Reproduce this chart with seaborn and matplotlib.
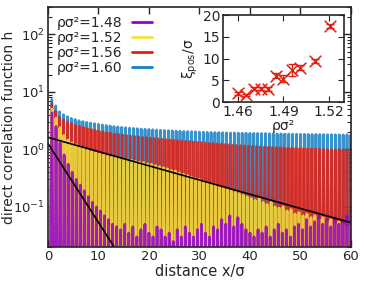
import matplotlib
matplotlib.use("Agg")
import matplotlib.pyplot as plt
import seaborn as sns
import numpy as np
import pandas as pd

sns.set_style("ticks")
plt.rcParams["font.family"] = ["DejaVu Sans"]
plt.rcParams["mathtext.fontset"] = "dejavusans"

# --- main panel: peak heights of h(x) for each density (one value per oscillation) ---
densities = ["1.48", "1.52", "1.56", "1.60"]
colors = ["#9400d3", "#f0e442", "#e51e10", "#1380c4"]
peak_spacing = [0.800, 0.789, 0.779, 0.769]   # distance between maxima (x/sigma)
trough_h = 1e-6                                 # h goes negative between peaks

peaks_148 = [4.3, 2.5, 1.3, 0.8, 0.55, 0.4, 0.3, 0.24, 0.19, 0.15,
             0.12, 0.1, 0.085, 0.07, 0.06, 0.05, 0.045, 0.04, 0.05, 0.035,
             0.045, 0.03, 0.04, 0.05, 0.035, 0.03, 0.045, 0.04, 0.03, 0.035,
             0.025, 0.04, 0.03, 0.045, 0.035, 0.03, 0.04, 0.05, 0.035, 0.03,
             0.045, 0.04, 0.06, 0.05, 0.07, 0.045, 0.065, 0.05, 0.04, 0.035,
             0.03, 0.04, 0.035, 0.045, 0.03, 0.04, 0.05, 0.035, 0.04, 0.03,
             0.045, 0.05, 0.04, 0.06, 0.045, 0.055, 0.07, 0.05, 0.06, 0.045,
             0.065, 0.05, 0.055, 0.07, 0.05]
peaks_152 = [5.0, 3.5, 2.4, 1.75, 1.45, 1.3, 1.2, 1.12, 1.05, 0.98,
             0.93, 0.88, 0.84, 0.8, 0.77, 0.74, 0.72, 0.7, 0.68, 0.66,
             0.65, 0.62, 0.6, 0.59, 0.56, 0.55, 0.52, 0.5, 0.48, 0.46,
             0.43, 0.42, 0.39, 0.37, 0.35, 0.33, 0.31, 0.3, 0.28, 0.26,
             0.25, 0.24, 0.22, 0.21, 0.2, 0.19, 0.18, 0.17, 0.16, 0.15,
             0.14, 0.13, 0.14, 0.12, 0.11, 0.12, 0.1, 0.095, 0.1, 0.085,
             0.09, 0.075, 0.08, 0.07, 0.075, 0.065, 0.07, 0.06, 0.065, 0.055,
             0.06, 0.05, 0.055, 0.05, 0.045, 0.05]
peaks_156 = [6.3, 4.6, 3.6, 3.25, 3.0, 2.8, 2.65, 2.5, 2.4, 2.3,
             2.22, 2.14, 2.07, 2.0, 1.95, 1.9, 1.86, 1.82, 1.78, 1.74,
             1.71, 1.68, 1.65, 1.62, 1.6, 1.57, 1.55, 1.52, 1.5, 1.48,
             1.46, 1.44, 1.42, 1.4, 1.38, 1.36, 1.34, 1.32, 1.31, 1.29,
             1.27, 1.26, 1.24, 1.23, 1.21, 1.2, 1.19, 1.17, 1.16, 1.15,
             1.14, 1.13, 1.12, 1.11, 1.1, 1.09, 1.08, 1.07, 1.07, 1.06,
             1.05, 1.05, 1.04, 1.03, 1.03, 1.02, 1.02, 1.01, 1.01, 1.0,
             1.0, 0.99, 0.99, 0.99, 0.98, 0.98, 0.97]
peaks_160 = [7.4, 5.7, 4.5, 4.0, 3.7, 3.45, 3.3, 3.15, 3.05, 2.95,
             2.87, 2.8, 2.73, 2.66, 2.6, 2.55, 2.5, 2.46, 2.42, 2.38,
             2.35, 2.32, 2.29, 2.26, 2.24, 2.22, 2.2, 2.17, 2.15, 2.13,
             2.12, 2.1, 2.08, 2.07, 2.05, 2.04, 2.03, 2.02, 2.0, 1.99,
             1.98, 1.97, 1.96, 1.96, 1.95, 1.94, 1.93, 1.93, 1.92, 1.91,
             1.91, 1.9, 1.9, 1.89, 1.88, 1.88, 1.87, 1.87, 1.86, 1.86,
             1.85, 1.85, 1.84, 1.84, 1.83, 1.83, 1.82, 1.82, 1.82, 1.81,
             1.81, 1.8, 1.8, 1.8, 1.79, 1.79, 1.79, 1.78]
all_peaks = [peaks_148, peaks_152, peaks_156, peaks_160]

# exponential envelope fits h ~ A exp(-x / xi)
fit_amp = [1.27, 1.62]
fit_xi = [3.16, 17.55]

# --- inset: correlation length vs density ---
rho_inset = [1.460, 1.465, 1.4705, 1.475, 1.480, 1.485, 1.490, 1.4956, 1.5007, 1.5105, 1.5206]
xi_inset = [2.0, 1.6, 3.1, 3.1, 3.0, 6.1, 5.4, 7.3, 7.9, 9.4, 17.5]
xi_err = [0.4, 0.3, 0.4, 0.4, 0.5, 0.6, 0.8, 1.4, 0.6, 0.5, 0.5]


def spike_frame(peaks, spacing, label):
    xs, hs = [0.0], [trough_h]
    for k, p in enumerate(peaks, start=1):
        xs += [k * spacing, (k + 0.5) * spacing]
        hs += [p, trough_h]
    return pd.DataFrame({"distance": xs, "h": hs, "rho": label})


fig = plt.figure(figsize=(3.66, 2.91), dpi=100)
ax = fig.add_axes([0.131, 0.151, 0.828, 0.825])

# draw highest density first so the low density curves sit on top
for i in reversed(range(4)):
    df = spike_frame(all_peaks[i], peak_spacing[i], densities[i])
    sns.lineplot(data=df, x="distance", y="h", sort=False, estimator=None,
                 color=colors[i], lw=2.0, alpha=0.85, ax=ax, label=f"ρσ²={densities[i]}")

xfit = np.linspace(0, 60, 400)
for a, xi in zip(fit_amp, fit_xi):
    ax.plot(xfit, a * np.exp(-xfit / xi), color="black", lw=1.2)

ax.set_yscale("log")
ax.set_xlim(0, 60)
ax.set_ylim(0.02, 300)
ax.set_xticks([0, 10, 20, 30, 40, 50, 60])
ax.set_xlabel("distance x/σ", fontsize=10.5, labelpad=1)
ax.set_ylabel("direct correlation function h", fontsize=10)
ax.yaxis.set_label_coords(-0.104, 0.5)
ax.tick_params(which="both", direction="in", top=True, right=True, labelsize=9.5, pad=2)
ax.tick_params(which="major", length=5, width=1)
ax.tick_params(which="minor", length=3, width=0.8)
for s in ax.spines.values():
    s.set_linewidth(1.2)

h_, l_ = ax.get_legend_handles_labels()
leg = ax.legend(h_[::-1], l_[::-1], loc="upper left", frameon=False, markerfirst=False,
                fontsize=10, handlelength=1.4, labelspacing=0.06, borderaxespad=0.1,
                borderpad=0.55, handletextpad=0.7)
for line in leg.get_lines():
    line.set_linewidth(2)
    line.set_alpha(1)

# inset
axi = fig.add_axes([0.609, 0.649, 0.331, 0.299])
axi.set_facecolor("white")
axi.errorbar(rho_inset, xi_inset, yerr=xi_err, fmt="none", ecolor="#e51e10",
             elinewidth=1, capsize=3)
sns.scatterplot(x=rho_inset, y=xi_inset, marker="x", color="#e51e10", s=70,
                linewidth=1.1, ax=axi, zorder=3)
axi.set_xlim(1.45, 1.53)
axi.set_ylim(0, 20)
axi.set_xticks([1.46, 1.49, 1.52])
axi.set_yticks([0, 5, 10, 15, 20])
axi.set_xlabel("ρσ²", fontsize=10, labelpad=0)
axi.set_ylabel("ξ$_{\\mathrm{pos}}$/σ", fontsize=10, labelpad=2)
axi.tick_params(direction="in", top=True, right=True, labelsize=10, length=4, pad=2)
for s in axi.spines.values():
    s.set_linewidth(1.2)

fig.savefig("out.png", dpi=100)
